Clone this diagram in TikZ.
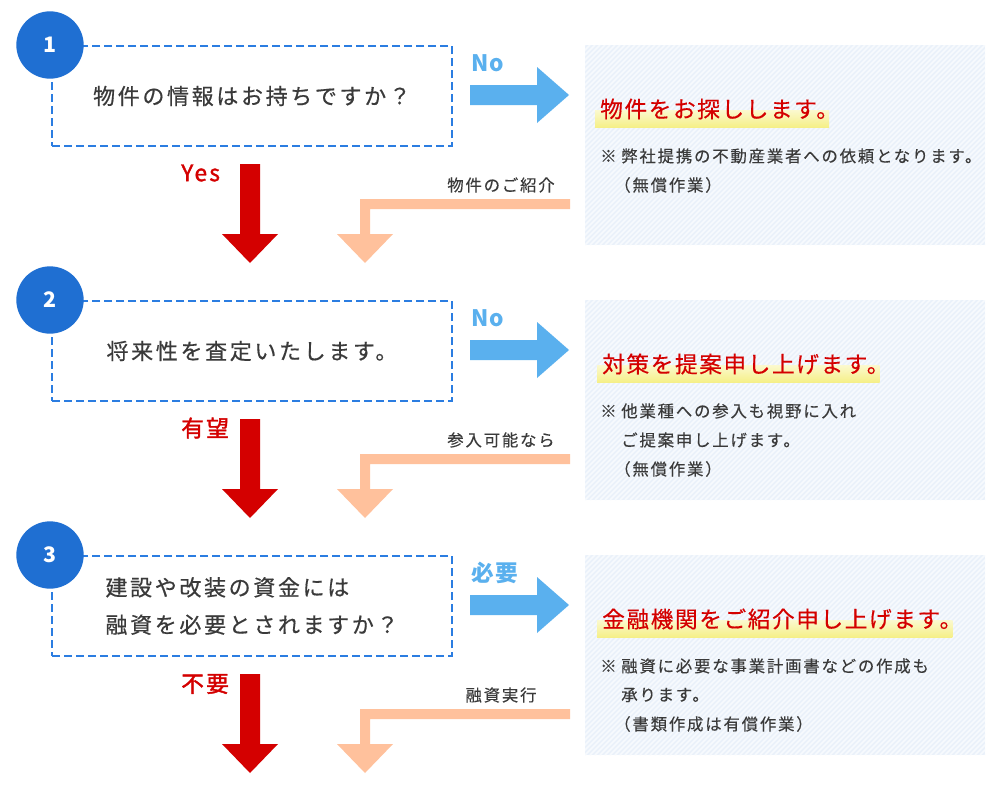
\documentclass[tikz,border=0pt]{standalone}
\usepackage{fontspec}
\setmainfont{Noto Sans CJK JP}
\newfontfamily\boxfont[LetterSpace=12,FakeBold=0.5]{Noto Sans CJK JP}
\newfontfamily\notefont[LetterSpace=11,FakeBold=0.25]{Noto Sans CJK JP}
\newfontfamily\ttlfont[LetterSpace=7,FakeBold=0.4]{Noto Sans CJK JP}
\newfontfamily\labfont[LetterSpace=10,FakeBold=1.6]{Noto Sans CJK JP}
\newfontfamily\blabfont[LetterSpace=6]{Noto Sans CJK JP}
\usetikzlibrary{calc}
\pgfdeclarelayer{bg}\pgfdeclarelayer{mid}\pgfsetlayers{bg,mid,main}
\definecolor{qblue}{HTML}{2B7DE1}
\definecolor{numblue}{HTML}{1F6FD2}
\definecolor{arrblue}{HTML}{5AB0EE}
\definecolor{peach}{HTML}{FFC19C}
\definecolor{redc}{HTML}{D40000}
\definecolor{panelbg}{HTML}{EAF1FA}
\definecolor{stripe}{HTML}{F7FAFD}
\definecolor{txt}{HTML}{3A3A3A}
\definecolor{hlA}{HTML}{FBF9CF}
\definecolor{hlB}{HTML}{F5EF85}
\begin{document}
\begin{tikzpicture}[x=0.75pt,y=-0.75pt,
  stepnum/.style={circle,fill=numblue,minimum size=50.5pt,inner sep=0pt,text=white,font=\fontsize{16}{16}\selectfont\bfseries},
  qbox/.style={draw=qblue,line width=1.5pt,dash pattern=on 6pt off 3pt,minimum width=300pt,minimum height=75pt,inner sep=0pt,text=txt,align=left,font=\boxfont\fontsize{16.5}{28}\selectfont},
  yn/.style={inner sep=0pt,font=\labfont\fontsize{17}{18}\selectfont},
  byn/.style={inner sep=0pt,text=arrblue,font=\blabfont\fontsize{17}{18}\selectfont\bfseries},
  ttl/.style={inner sep=0pt,text=redc,anchor=west,font=\ttlfont\fontsize{17}{20}\selectfont},
  note/.style={inner sep=0pt,text=txt,anchor=west,font=\notefont\fontsize{12.3}{14}\selectfont},
  rlab/.style={inner sep=0pt,text=txt,font=\notefont\fontsize{12.3}{14}\selectfont},
  hl/.style={top color=hlA,bottom color=hlB},
  bluearrow/.style={fill=arrblue},
  redarrow/.style={fill=redc},
  peacharrow/.style={fill=peach}
]
\useasboundingbox (0,0) rectangle (1000,785);
\begin{pgfonlayer}{bg}
  \fill[white] (0,0) rectangle (1000,785);
\end{pgfonlayer}

% ---------- common per-step geometry ----------
\foreach \dy in {0,255,510}{
  \begin{scope}[shift={(0,\dy)}]
    \begin{pgfonlayer}{bg}
      \fill[panelbg] (585,45) rectangle (985,245);
      \begin{scope}
        \clip (585,45) rectangle (985,245);
        \foreach \k in {0,5,...,600}
          \draw[stripe,line width=1.1pt] (385+\k,245) -- (585+\k,45);
      \end{scope}
    \end{pgfonlayer}
    % blue arrow to the right
    \fill[bluearrow] (470,85) -- (537,85) -- (537,67) -- (569,95) -- (537,123) -- (537,105) -- (470,105) -- cycle;
    % red arrow down
    \fill[redarrow] (240,164) -- (260,164) -- (260,234) -- (278,234) -- (250,263) -- (222,234) -- (240,234) -- cycle;
    % peach return arrow
    \fill[peacharrow] (570,199) -- (570,209) -- (370,209) -- (370,234) -- (393,234) -- (365,263) -- (337,234) -- (360,234) -- (360,199) -- cycle;
  \end{scope}
}

% ---------- step 1 ----------
\node[qbox] (b1) at (252,96) {物件の情報はお持ちですか？};
\node[stepnum] (c1) at (50,45) {1};
\node[byn,anchor=west] (y1) at (471,63) {No};
\node[yn,text=redc,anchor=west] (n1) at (181,173) {Yes};
\node[rlab] (r1) at (501,185) {物件のご紹介};
\node[ttl] (t1) at (600,109) {物件をお探しします。};
\begin{pgfonlayer}{mid}
  \shade[hl] ($(t1.west)+(-5,1)$) rectangle ($(t1.south east)+(-10,8)$);
\end{pgfonlayer}
\node[note] (m1a) at (600,156) {※};
\node[note] (m1b) at (621,156) {弊社提携の不動産業者への依頼となります。};
\node[note] (m1c) at (614,185) {（無償作業）};

% ---------- step 2 ----------
\node[qbox] (b2) at (252,351) {将来性を査定いたします。};
\node[stepnum] (c2) at (50,300) {2};
\node[byn,anchor=west] (y2) at (471,318) {No};
\node[yn,text=redc,anchor=west] (n2) at (181,428) {有望};
\node[rlab] (r2) at (501,440) {参入可能なら};
\node[ttl] (t2) at (602,364) {対策を提案申し上げます。};
\begin{pgfonlayer}{mid}
  \shade[hl] ($(t2.west)+(-5,1)$) rectangle ($(t2.south east)+(-10,8)$);
\end{pgfonlayer}
\node[note] (m2a) at (600,411) {※};
\node[note] (m2b) at (621,411) {他業種への参入も視野に入れ};
\node[note] (m2c) at (621,440) {ご提案申し上げます。};
\node[note] (m2d) at (614,469) {（無償作業）};

% ---------- step 3 ----------
\node[qbox] (b3) at (252,606) {建設や改装の資金には\\融資を必要とされますか？};
\node[stepnum] (c3) at (50,555) {3};
\node[byn,anchor=west] (y3) at (471,573) {必要};
\node[yn,text=redc,anchor=west] (n3) at (181,684) {不要};
\node[rlab] (r3) at (501,695) {融資実行};
\node[ttl] (t3) at (602,619) {金融機関をご紹介申し上げます。};
\begin{pgfonlayer}{mid}
  \shade[hl] ($(t3.west)+(-5,1)$) rectangle ($(t3.south east)+(-10,8)$);
\end{pgfonlayer}
\node[note] (m3a) at (600,666) {※};
\node[note] (m3b) at (621,666) {融資に必要な事業計画書などの作成も};
\node[note] (m3c) at (621,695) {承ります。};
\node[note] (m3d) at (614,724) {（書類作成は有償作業）};
\end{tikzpicture}
\end{document}
